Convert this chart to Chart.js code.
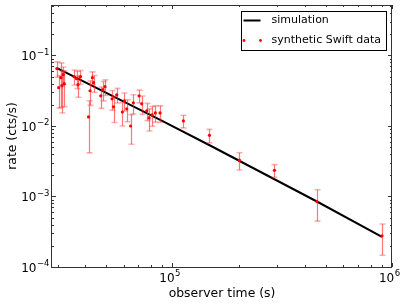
<!DOCTYPE html>
<html>
<head>
<meta charset="utf-8">
<script src="https://cdn.jsdelivr.net/npm/chart.js@4/dist/chart.umd.min.js"></script>
<style>
html, body { margin:0; padding:0; background:#fff; }
</style>
</head>
<body>
<canvas id="chart" width="407" height="307"></canvas>
<script>
// simulation curve
var simTime = [30000, 50000, 88000, 150000, 455000, 900000];
var simRate = [0.0658, 0.0295, 0.0122, 0.0052, 0.000849, 0.000268];

// synthetic Swift points (time, rate, 1 sigma)
var obsTime = [29800, 30360, 31090, 31420, 31850, 32190, 35650, 36590, 37170, 38150,
	41500, 42170, 43200, 43740, 47170, 48320, 49350, 53120, 53960, 55790,
	59180, 60430, 61980, 64500, 66420, 70500, 72530, 76420, 78290, 80800,
	83640, 87860, 112200, 147500, 202000, 291600, 455000, 900300];
var obsRate = [0.0652, 0.0349, 0.0485, 0.0373, 0.0535, 0.0398, 0.0501, 0.0469, 0.0385, 0.0501,
	0.01345, 0.0316, 0.0485, 0.0411, 0.0268, 0.0327, 0.0361, 0.0243, 0.0187, 0.0277,
	0.0158, 0.0228, 0.0175, 0.0100, 0.0213, 0.0268, 0.0206, 0.0164, 0.0130, 0.0144,
	0.0153, 0.0153, 0.0118, 0.00736, 0.00327, 0.00235, 0.000848, 0.000277];
var obsErr = [0.016, 0.017, 0.030, 0.022, 0.015, 0.021, 0.012, 0.013, 0.013, 0.011,
	0.0093, 0.012, 0.010, 0.011, 0.009, 0.010, 0.009, 0.0075, 0.0075, 0.0065,
	0.0058, 0.0065, 0.006, 0.0045, 0.0065, 0.0055, 0.006, 0.0045, 0.0045, 0.0045,
	0.004, 0.004, 0.0024, 0.0016, 0.0009, 0.00048, 0.0004, 0.00013];

// axis limits
var xRange = [28300, 1e6];
var yRange = [1e-4, 0.52];

var FONT = "DejaVu Sans";

function pts(xs, ys) {
	var out = [];
	for (var i = 0; i < xs.length; i++) out.push({x: xs[i], y: ys[i]});
	return out;
}

// decade + minor ticks inside the scale range
function logTicks(scale) {
	var out = [];
	var e0 = Math.floor(Math.log10(scale.min)), e1 = Math.ceil(Math.log10(scale.max));
	for (var e = e0; e <= e1; e++) {
		for (var k = 1; k < 10; k++) {
			var v = k * Math.pow(10, e);
			if (v >= scale.min * 0.9999 && v <= scale.max * 1.0001) out.push({v: v, major: k == 1, exp: e});
		}
	}
	return out;
}

// "10" with a raised exponent
function drawPow(ctx, exp, x, y, align) {
	ctx.font = "12px '" + FONT + "'";
	var w1 = ctx.measureText("10").width;
	var s = String(exp).replace("-", "\u2212");
	ctx.font = "8.5px '" + FONT + "'";
	var w2 = ctx.measureText(s).width;
	var total = w1 + 0.5 + w2;
	var x0 = align == "right" ? x - total : x - total / 2;
	ctx.textAlign = "left";
	ctx.textBaseline = "alphabetic";
	ctx.font = "12px '" + FONT + "'";
	ctx.fillText("10", x0, y);
	ctx.font = "8.5px '" + FONT + "'";
	ctx.fillText(s, x0 + w1 + 0.5, y - 5.6);
}

var errorBars = {
	id: "errorBars",
	beforeDatasetDraw: function(chart, args) {
		if (args.index != 1) return;
		var ctx = chart.ctx, xs = chart.scales.x, ys = chart.scales.y;
		ctx.save();
		for (var i = 0; i < obsTime.length; i++) {
			var px = Math.round(xs.getPixelForValue(obsTime[i])) + 0.5;
			var hi = ys.getPixelForValue(obsRate[i] + obsErr[i]);
			var lo = ys.getPixelForValue(Math.max(obsRate[i] - obsErr[i], 1e-6));
			ctx.strokeStyle = "rgba(255,30,30,0.6)";
			ctx.lineWidth = 1.2;
			ctx.beginPath();
			ctx.moveTo(px, hi);
			ctx.lineTo(px, lo);
			ctx.stroke();
			ctx.strokeStyle = "rgba(255,60,60,0.4)";
			ctx.lineWidth = 1.6;
			ctx.beginPath();
			ctx.moveTo(px - 3, hi); ctx.lineTo(px + 3, hi);
			ctx.moveTo(px - 3, lo); ctx.lineTo(px + 3, lo);
			ctx.stroke();
		}
		ctx.restore();
	}
};

var frame = {
	id: "frame",
	afterDraw: function(chart) {
		var ctx = chart.ctx, a = chart.chartArea;
		var xs = chart.scales.x, ys = chart.scales.y;
		ctx.save();
		ctx.strokeStyle = "#333";
		ctx.lineWidth = 1;
		ctx.strokeRect(Math.round(a.left) - 0.5, Math.round(a.top) + 0.5, Math.round(a.right - a.left), Math.round(a.bottom - a.top));
		ctx.beginPath();
		logTicks(xs).forEach(function(t) {
			var p = Math.round(xs.getPixelForValue(t.v)) + 0.5;
			var len = t.major ? 4 : 2;
			ctx.moveTo(p, a.bottom); ctx.lineTo(p, a.bottom - len);
			ctx.moveTo(p, a.top); ctx.lineTo(p, a.top + len);
		});
		logTicks(ys).forEach(function(t) {
			var p = Math.round(ys.getPixelForValue(t.v)) + 0.5;
			var len = t.major ? 4 : 2;
			ctx.moveTo(a.left, p); ctx.lineTo(a.left + len, p);
			ctx.moveTo(a.right, p); ctx.lineTo(a.right - len, p);
		});
		ctx.stroke();

		// tick labels
		ctx.fillStyle = "#000";
		logTicks(xs).forEach(function(t) {
			if (t.major) drawPow(ctx, t.exp, xs.getPixelForValue(t.v) - 2.5, a.bottom + 14.5, "center");
		});
		logTicks(ys).forEach(function(t) {
			if (t.major) drawPow(ctx, t.exp, a.left - 2.5, ys.getPixelForValue(t.v) + 5, "right");
		});

		// legend
		var ds = chart.data.datasets;
		var bx = Math.round(a.right) - 5.5, by = Math.round(a.top) + 6.5;
		var bw = 145, bh = 39;
		ctx.fillStyle = "#fff";
		ctx.fillRect(bx - bw, by, bw, bh);
		ctx.strokeStyle = "#000";
		ctx.strokeRect(bx - bw, by, bw, bh);
		var lx = bx - bw;
		ctx.strokeStyle = ds[0].borderColor;
		ctx.lineWidth = 2;
		ctx.beginPath();
		ctx.moveTo(lx + 2, by + 9); ctx.lineTo(lx + 19, by + 9);
		ctx.stroke();
		ctx.fillStyle = ds[1].backgroundColor;
		[lx + 2.5, lx + 19].forEach(function(dx) {
			ctx.beginPath();
			ctx.arc(dx, by + 29, 1.4, 0, Math.PI * 2);
			ctx.fill();
		});
		ctx.fillStyle = "#000";
		ctx.font = "11px '" + FONT + "'";
		ctx.textAlign = "left";
		ctx.textBaseline = "middle";
		ctx.fillText(ds[0].label, lx + 30, by + 9);
		ctx.fillText(ds[1].label, lx + 30, by + 29);
		ctx.restore();
	}
};

var chart = new Chart(document.getElementById("chart"), {
	type: "line",
	data: {
		datasets: [{
			label: "simulation",
			data: pts(simTime, simRate),
			borderColor: "#000",
			borderWidth: 2,
			pointRadius: 0,
			tension: 0,
			order: 1
		}, {
			type: "scatter",
			label: "synthetic Swift data",
			data: pts(obsTime, obsRate),
			backgroundColor: "#ff0000",
			borderWidth: 0,
			pointRadius: 1.6,
			order: 0
		}]
	},
	options: {
		responsive: false,
		devicePixelRatio: 1,
		animation: false,
		layout: { padding: { left: 0, right: 15, top: 5, bottom: 0 } },
		plugins: { legend: { display: false }, tooltip: { enabled: false } },
		scales: {
			x: {
				type: "logarithmic",
				min: xRange[0], max: xRange[1],
				grid: { display: false },
				border: { display: false },
				ticks: { display: false },
				title: { display: true, text: "observer time (s)", color: "#000", font: { family: FONT, size: 12.4 }, padding: { top: 0, bottom: 6 } },
				afterFit: function(s) { s.height = 40; }
			},
			y: {
				type: "logarithmic",
				min: yRange[0], max: yRange[1],
				grid: { display: false },
				border: { display: false },
				ticks: { display: false },
				title: { display: true, text: "rate (cts/s)", color: "#000", font: { family: FONT, size: 12.4 }, padding: { top: 5, bottom: 0 } },
				afterFit: function(s) { s.width = 52; }
			}
		}
	},
	plugins: [errorBars, frame]
});
</script>
</body>
</html>
